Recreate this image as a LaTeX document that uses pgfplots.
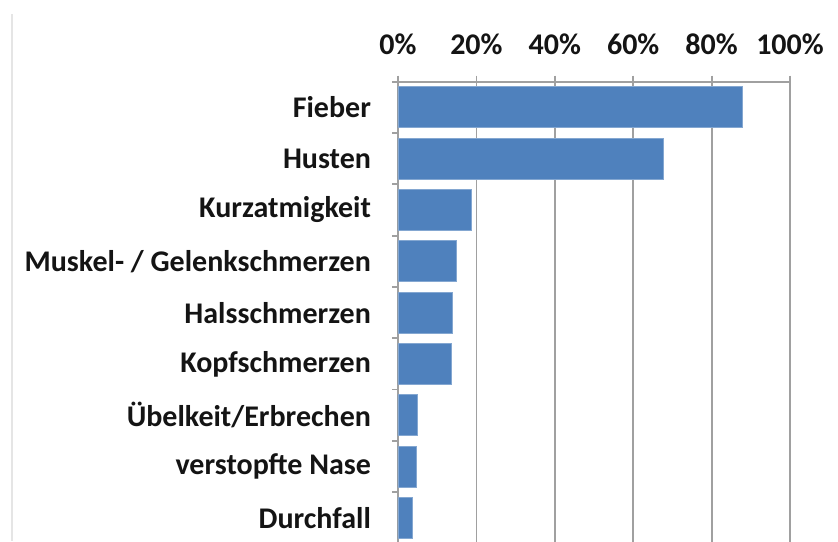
\documentclass[border=0pt]{standalone}
\usepackage{fontspec}
\setmainfont{Carlito}
\usepackage{pgfplots}
\pgfplotsset{compat=1.18}
\definecolor{barblue}{HTML}{4F81BD}
\definecolor{gridgray}{HTML}{A0A0A0}
\definecolor{txt}{HTML}{141414}
\begin{document}
\begin{tikzpicture}
\begin{axis}[
  scale only axis,
  width=196pt, height=230.9pt,
  at={(0,0)}, anchor=south west,
  xbar, bar width=20.5pt,
  xmin=0, xmax=100,
  ymin=-0.5, ymax=8.5,
  y dir=reverse,
  xtick={0,20,40,60,80,100},
  xticklabel pos=upper, xtick pos=upper,
  xticklabel={\pgfmathprintnumber{\tick}\%},
  /pgf/number format/assume math mode=true,
  xmajorgrids, grid style={gridgray, line width=0.9pt},
  ytick={0,...,8},
  yticklabels={Fieber,Husten,Kurzatmigkeit,Muskel- / Gelenkschmerzen,Halsschmerzen,Kopfschmerzen,Übelkeit/Erbrechen,verstopfte Nase,Durchfall},
  ytick pos=left,
  minor ytick={-0.5,0.5,...,8.5},
  major tick length=3pt, minor tick length=3pt,
  tick align=outside,
  major y tick style={draw=none},
  tick style={gridgray, line width=0.9pt},
  axis line style={gridgray, line width=0.9pt},
  ticklabel style={font=\fontsize{15pt}{18pt}\selectfont\bfseries, text=txt},
  yticklabel style={xshift=-7pt},
  xticklabel style={yshift=7pt},
]
\addplot[fill=barblue, draw=barblue!70!white, line width=0.4pt] coordinates {
  (87.9,0) (67.7,1) (18.6,2) (14.8,3) (13.9,4) (13.6,5) (5.0,6) (4.8,7) (3.7,8)
};
\end{axis}
\draw[black!10, line width=1pt] (-193pt,1.25pt) -- (-193pt,264.75pt);
\pgfresetboundingbox
\path[use as bounding box] (-199pt,1.25pt) rectangle (220pt,271.75pt);
\end{tikzpicture}
\end{document}
